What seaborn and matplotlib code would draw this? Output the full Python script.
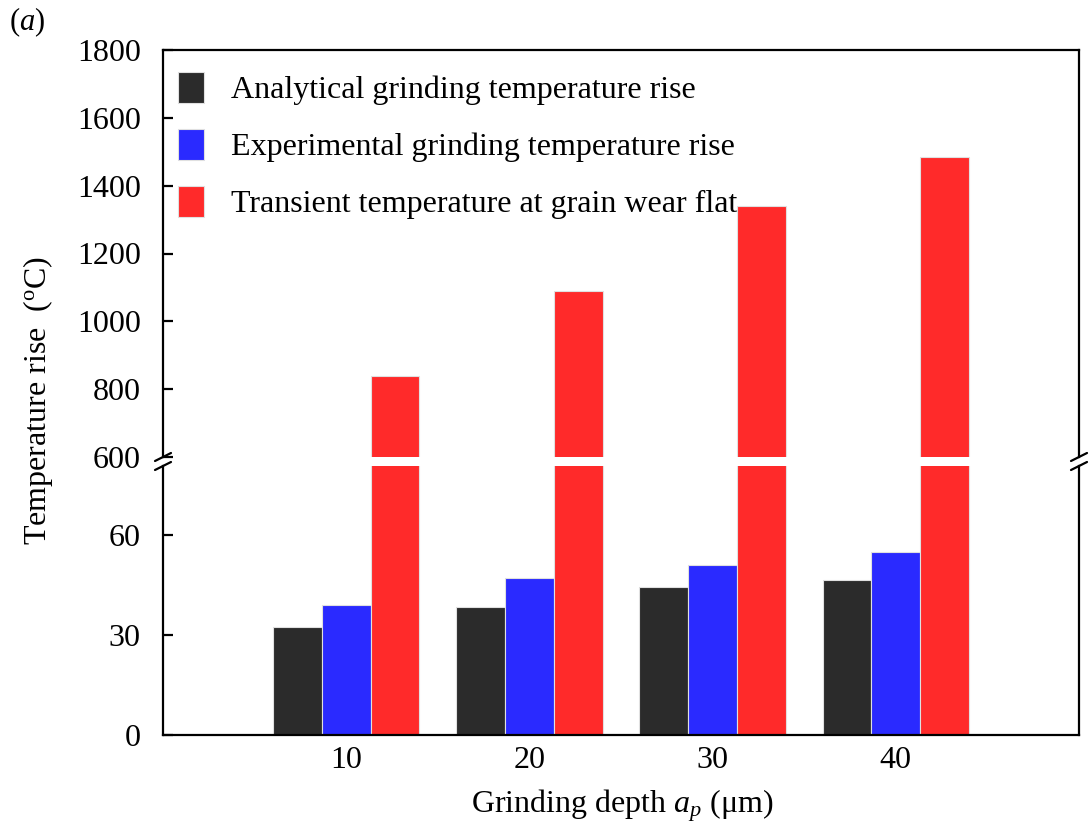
import matplotlib
matplotlib.use("Agg")
import matplotlib.pyplot as plt
import seaborn as sns
import pandas as pd

# ---- data ----
depths = ["10", "20", "30", "40"]
series = ["Analytical grinding temperature rise",
          "Experimental grinding temperature rise",
          "Transient temperature at grain wear flat"]
analytical = [32.5, 38.5, 44.5, 46.5]
experimental = [39.0, 47.0, 51.0, 55.0]
transient = [840, 1090, 1340, 1485]
colors = ["#2b2b2b", "#2a2aff", "#ff2a2a"]
top_ticks = [600, 800, 1000, 1200, 1400, 1600, 1800]
bottom_ticks = [0, 30, 60]

rows = []
for name, vals in zip(series, [analytical, experimental, transient]):
    for d, v in zip(depths, vals):
        rows.append({"depth": d, "series": name, "value": v})
df = pd.DataFrame(rows)

sns.set_theme(style="white")
plt.rcParams["font.family"] = ["Liberation Serif", "DejaVu Serif"]
plt.rcParams["mathtext.fontset"] = "custom"
plt.rcParams["mathtext.rm"] = "Liberation Serif"
plt.rcParams["mathtext.it"] = "Liberation Serif:italic"
plt.rcParams["text.color"] = "black"
plt.rcParams["xtick.color"] = "black"
plt.rcParams["ytick.color"] = "black"

FS = 23
W, H = 1089, 835
fig = plt.figure(figsize=(W / 100, H / 100), dpi=100)
left, right = 163 / W, 1079 / W
ax_top = fig.add_axes([left, 1 - 457 / H, right - left, (457 - 50) / H])
ax_bot = fig.add_axes([left, 1 - 735 / H, right - left, (735 - 466) / H])

for ax in (ax_top, ax_bot):
    sns.barplot(data=df, x="depth", y="value", hue="series", order=depths,
                hue_order=series, palette=colors, saturation=1, width=0.8,
                edgecolor="#e0e0e0", linewidth=0.8, ax=ax, legend=(ax is ax_top))
    ax.set_xlim(-1, 4)
    ax.set_xlabel("")
    ax.set_ylabel("")
    for s in ax.spines.values():
        s.set_linewidth(1.6)
        s.set_color("black")
    ax.tick_params(axis="y", direction="in", length=7, width=1.6,
                   labelsize=FS, pad=16, colors="black", left=True)
    ax.tick_params(axis="x", length=0, labelsize=FS, pad=8, colors="black")

ax_top.set_ylim(600, 1800)
ax_top.set_yticks(top_ticks)
ax_top.spines["bottom"].set_visible(False)
ax_top.tick_params(axis="x", labelbottom=False)

ax_bot.set_ylim(0, 80.7)
ax_bot.set_yticks(bottom_ticks)
ax_bot.spines["top"].set_visible(False)

# legend
handles, labels = ax_top.get_legend_handles_labels()
ax_top.legend(handles, labels, loc="upper left", bbox_to_anchor=(-0.011, 1.009),
              frameon=False, fontsize=FS, handlelength=0.8, handleheight=1.1,
              handletextpad=0.85, labelspacing=0.75, borderaxespad=0.4)

# break marks
kw = dict(color="black", lw=1.6, clip_on=False, transform=fig.transFigure)
for xp in (left, right):
    for yp in (1 - 457 / H, 1 - 466 / H):
        fig.add_artist(plt.Line2D([xp - 8 / W, xp + 8 / W],
                                  [yp - 4 / H, yp + 4 / H], **kw))

fig.text(38 / W, 1 - 400 / H, "Temperature rise  ($^{\\rm o}$C)", rotation=90,
         ha="center", va="center", fontsize=FS)
fig.text(622 / W, 1 - 806 / H, "Grinding depth $a_p$ (\u03bcm)",
         ha="center", va="center", fontsize=FS)
fig.text(9 / W, 1 - 22 / H, "$(a)$", ha="left", va="center", fontsize=22)

fig.savefig("out.png", dpi=100)
